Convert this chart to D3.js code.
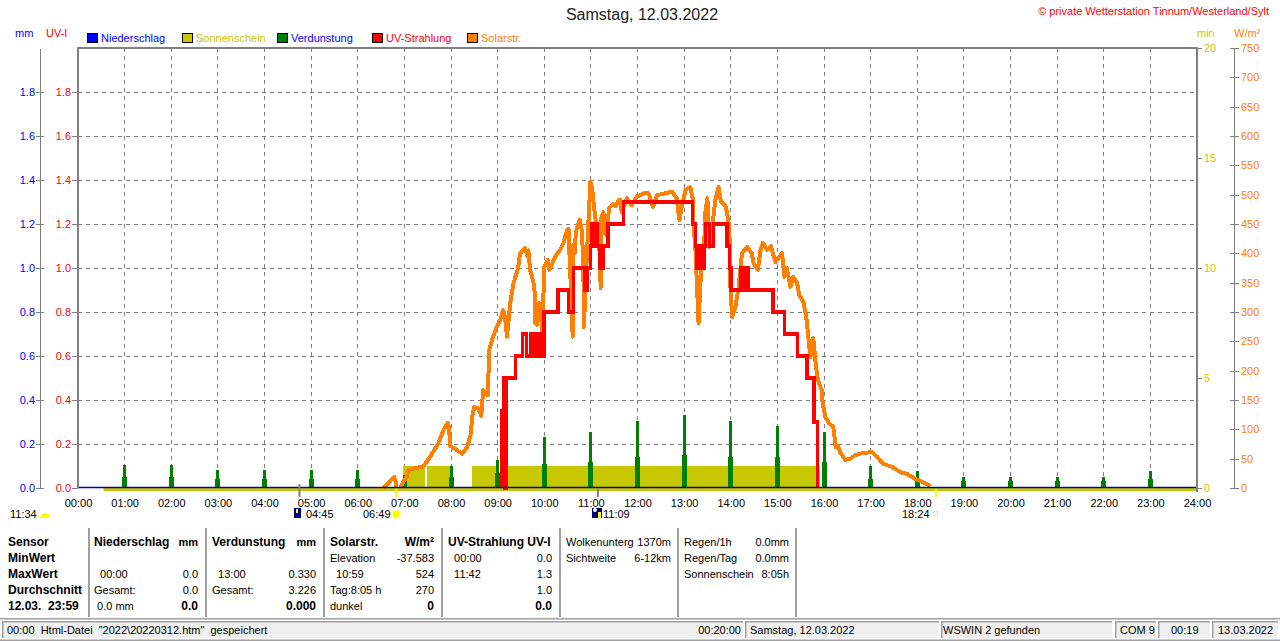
<!DOCTYPE html>
<html><head><meta charset="utf-8">
<script src="https://d3js.org/d3.v7.min.js"></script>
<style>
html,body{margin:0;padding:0;background:#fff;overflow:hidden}
svg{display:block}
text{font-family:"Liberation Sans",Arial,sans-serif;font-size:11px;fill:#000}
</style></head><body><svg id="c" width="1280" height="641"></svg>
<script>
// ---------- data ----------
const titleText = "Samstag, 12.03.2022";
const creditText = "© private Wetterstation Tinnum/Westerland/Sylt";
const legendNames = ["Niederschlag","Sonnenschein","Verdunstung","UV-Strahlung","Solarstr."];
const hourTicks = d3.range(0,25);
const mmTicks = [0,0.2,0.4,0.6,0.8,1.0,1.2,1.4,1.6,1.8];
const minTicks = [0,5,10,15,20];
const wattTicks = d3.range(0,751,50);

const solarTime = [6.55,6.65,6.72,6.78,6.81,6.82,null,6.92,6.97,7.05,7.09,7.2,7.41,7.55,7.73,7.84,7.93,7.96,7.98,8.12,8.24,8.35,8.43,8.45,8.5,8.58,8.65,8.69,8.73,8.79,8.82,8.88,8.98,9.05,9.12,9.16,9.2,9.27,9.34,9.44,9.48,9.59,9.64,9.66,9.7,9.72,9.79,9.8,9.85,9.89,9.93,9.96,10.0,10.08,10.11,10.17,10.24,10.34,10.41,10.49,10.52,10.54,10.57,10.59,10.61,10.62,10.65,10.68,10.76,10.81,10.84,10.85,10.9,10.95,10.99,11.03,11.08,11.13,11.17,11.2,11.21,11.22,11.27,11.31,11.34,11.39,11.47,11.53,11.6,11.63,11.66,11.77,11.87,11.99,12.13,12.24,12.33,12.42,12.74,12.84,12.9,12.95,13.03,13.13,13.18,13.2,13.24,13.31,13.35,13.38,13.42,13.46,13.5,13.54,13.62,13.67,13.74,13.79,13.88,13.92,13.97,13.99,14.03,14.1,14.17,14.24,14.35,14.45,14.49,14.58,14.64,14.69,14.78,14.86,14.96,15.1,15.15,15.2,15.28,15.34,15.42,15.47,15.56,15.62,15.67,15.71,15.74,15.77,15.82,15.87,15.95,15.97,16.03,16.1,16.2,16.25,16.3,16.35,16.46,16.56,16.67,16.85,17.03,17.14,17.27,17.46,17.64,17.78,17.97,18.08,18.28];
const solarWatt = [0,8,14,19,12,0,null,0,10,19,31,33,37,53,76,99,111,104,72,65,58,70,94,121,138,136,123,167,160,158,235,252,275,285,303,290,258,315,349,375,400,409,395,405,370,366,343,281,278,315,305,264,377,389,372,382,395,406,417,440,442,400,343,300,258,414,400,437,457,437,372,274,372,457,522,508,470,440,432,377,341,460,470,432,435,477,484,480,491,491,470,494,482,497,502,502,479,499,505,494,457,480,508,513,495,452,411,281,349,385,395,474,494,411,457,491,513,488,482,470,445,349,291,308,343,400,411,400,383,372,406,418,406,412,385,400,360,375,343,360,350,329,317,291,252,223,252,255,213,184,167,145,121,111,104,70,72,60,48,50,56,60,61,53,41,36,27,24,15,12,3];

const uvTime = [9.09,9.09,9.13,9.16,9.19,9.38,9.53,9.62,9.71,9.8,9.89,9.95,10.0,10.29,10.52,10.63,10.87,10.93,10.99,11.02,11.06,11.09,11.13,11.2,11.26,11.37,11.7,13.18,13.24,13.28,13.31,13.34,13.37,13.4,13.43,13.46,13.54,13.63,13.92,13.97,14.0,14.22,14.25,14.28,14.31,14.34,14.37,14.39,14.9,15.15,15.43,15.64,15.79,15.86];
const uvValue = [0,0.35,0.5,0,0.5,0.6,0.7,0.6,0.7,0.6,0.7,0.6,0.8,0.9,0.8,1.0,0.9,1.0,1.1,1.2,1.1,1.2,1.1,1.0,1.1,1.2,1.3,1.2,1.1,1.0,1.1,1.0,1.1,1.0,1.1,1.2,1.1,1.2,1.1,1.0,0.9,1.0,0.9,1.0,0.9,1.0,0.9,0.9,0.8,0.7,0.6,0.5,0.3,0];

const sunStart = [6.97,7.49,8.45,9.07,9.2];
const sunEnd = [7.44,8.0,9.04,9.14,15.92];
const sunMinutes = [1,1,1,1,1];

const verdHour = d3.range(1,24);
const verdPeak = [0.105,0.105,0.08,0.08,0.08,0.08,0.06,0.1,0.127,0.23,0.255,0.305,0.33,0.305,0.28,0.255,0.1,0.077,0.05,0.05,0.05,0.05,0.077];
const verdBase = [0.05,0.05,0.04,0.04,0.04,0.04,0.03,0.05,0.07,0.11,0.12,0.14,0.15,0.14,0.14,0.12,0.04,0.04,0.03,0.03,0.03,0.03,0.04];

const tableColumns = [
 ["Sensor","MinWert","MaxWert","Durchschnitt","12.03.  23:59"],
 ["Niederschlag","","  00:00","Gesamt:"," 0.0 mm"],
 ["","","0.0","0.0","0.0"],
 ["Verdunstung","","  13:00","Gesamt:",""],
 ["","","0.330","3.226","0.000"],
 ["Solarstr.","Elevation","  10:59","Tag:8:05 h","dunkel"],
 ["W/m²","-37.583","524","270","0"],
 ["UV-Strahlung UV-I","  00:00","  11:42","",""],
 ["","0.0","1.3","1.0","0.0"],
 ["Wolkenunterg","Sichtweite","","",""],
 ["1370m","6-12km","","",""],
 ["Regen/1h","Regen/Tag","Sonnenschein","",""],
 ["0.0mm","0.0mm","8:05h","",""]
];
const tableHeadUnits = ["mm","mm"];
const statusTexts = ['00:00  Html-Datei  "2022\\20220312.htm"  gespeichert',"00:20:00","Samstag, 12.03.2022","WSWIN 2 gefunden","COM 9","00:19","13.03.2022"];
const astroLabels = ["11:34","04:45","06:49","11:09","18:24"];
const astroTimes = [4.75,6.82,11.15,18.4];

// ---------- layout ----------
const svg = d3.select("#c");
const L=78,R=1197,T=48,B=488;
const C = {blue:"#0000ff",olive:"#c8c800",green:"#008000",red:"#ff0000",orange:"#ff8000",grey:"#808080",navy:"#000080"};
const x = d3.scaleLinear().domain([0,24]).range([L,R]);
const yMm = d3.scaleLinear().domain([0,2]).range([B,T]);
const yMin = d3.scaleLinear().domain([0,20]).range([B,T]);
const yW = d3.scaleLinear().domain([0,750]).range([B,T]);
const txt=(s,px,py,o={})=>{
  const t=svg.append("text").attr("x",px).attr("y",py).attr("xml:space","preserve").text(s);
  if(o.a)t.attr("text-anchor",o.a);
  if(o.c)t.style("fill",o.c);
  if(o.s)t.style("font-size",o.s+"px");
  if(o.b)t.style("font-weight","bold");
  return t;
};
txt(titleText,642,20,{a:"middle",s:16,c:"#222"});
txt(creditText,1269,15,{a:"end",c:C.red,s:11});
txt("mm",15,37,{c:C.blue}); txt("UV-I",46,37,{c:C.red});
txt("min",1197,37,{c:C.olive}); txt("W/m²",1234,37,{c:C.orange});

const legX=[87,182,277,372,467];
const legC=[C.blue,C.olive,C.green,C.red,C.orange];
const legT=[C.blue,C.olive,C.blue,C.red,C.orange];
legendNames.forEach((n,i)=>{
  svg.append("rect").attr("x",legX[i]+.5).attr("y",33.5).attr("width",10).attr("height",9).attr("fill",legC[i]).attr("stroke","#000");
  txt(n,legX[i]+14,42,{c:legT[i]});
});

// grid
const grid=svg.append("g").attr("stroke",C.grey).attr("stroke-dasharray","4,4").attr("shape-rendering","crispEdges");
grid.selectAll("line.v").data(hourTicks.slice(1,24)).join("line").attr("x1",d=>x(d)).attr("x2",d=>x(d)).attr("y1",T).attr("y2",B);
grid.selectAll("line.h").data(mmTicks.slice(1)).join("line").attr("x1",L).attr("x2",R).attr("y1",d=>yMm(d)).attr("y2",d=>yMm(d));

// sunshine
svg.append("g").attr("fill",C.olive).attr("shape-rendering","crispEdges").selectAll("rect").data(sunStart).join("rect")
 .attr("x",d=>x(d)).attr("width",(d,i)=>x(sunEnd[i])-x(d)).attr("y",(d,i)=>yMin(sunMinutes[i])).attr("height",(d,i)=>B-yMin(sunMinutes[i]));
svg.append("rect").attr("x",x(0.55)).attr("y",B).attr("width",R-x(0.55)).attr("height",3).attr("fill",C.olive);

// evaporation
const gv=svg.append("g").attr("fill",C.green).attr("shape-rendering","crispEdges");
gv.selectAll("rect.b").data(verdHour).join("rect").attr("x",d=>x(d)-2.5).attr("width",5).attr("y",(d,i)=>yMm(verdBase[i])).attr("height",(d,i)=>B-yMm(verdBase[i]));
gv.selectAll("rect.p").data(verdHour).join("rect").attr("class","p").attr("x",d=>x(d)-1.5).attr("width",3).attr("y",(d,i)=>yMm(verdPeak[i])).attr("height",(d,i)=>B-yMm(verdPeak[i]));

// solar
const solarPts=solarTime.map((t,i)=>[t,solarWatt[i]]);
svg.append("path").attr("d",d3.line().defined(d=>d[0]!==null).x(d=>x(d[0])).y(d=>yW(d[1]))(solarPts))
 .attr("fill","none").attr("stroke",C.orange).attr("stroke-width",4).attr("stroke-linejoin","round").attr("shape-rendering","crispEdges");

// UV
const uvPts=uvTime.map((t,i)=>[t,uvValue[i]]);
svg.append("path").attr("d",d3.line().curve(d3.curveStepAfter).x(d=>x(d[0])).y(d=>yMm(d[1]))(uvPts))
 .attr("fill","none").attr("stroke",C.red).attr("stroke-width",3.6).attr("shape-rendering","crispEdges");

// precipitation baseline
svg.append("line").attr("x1",L).attr("x2",R).attr("y1",B-.5).attr("y2",B-.5).attr("stroke","#0000c0").attr("stroke-width",1.5);

// frame
const fr=svg.append("g").attr("shape-rendering","crispEdges").attr("fill",C.grey);
fr.append("rect").attr("x",L-1).attr("y",T-1).attr("width",R-L+2).attr("height",2);
fr.append("rect").attr("x",L-1).attr("y",T-1).attr("width",2).attr("height",B-T+1);
fr.append("rect").attr("x",R-1).attr("y",T-1).attr("width",2).attr("height",B-T+5);

// axes
function styleAxis(g,col,lo,hi,tx,anchor){
  g.select(".domain").attr("stroke",C.grey).attr("shape-rendering","crispEdges");
  g.selectAll(".tick line").attr("stroke",C.grey).attr("x1",lo).attr("x2",hi).attr("shape-rendering","crispEdges");
  g.selectAll(".tick text").style("fill",col).style("font-size","11px").attr("font-family",null).attr("x",tx).attr("text-anchor",anchor);
}
const mmAx=svg.append("g").attr("transform","translate(40,0)").call(d3.axisLeft(yMm).tickValues(mmTicks).tickFormat(d3.format(".1f")).tickSizeOuter(0));
styleAxis(mmAx,C.blue,-4,4,-5,"end");
const uvAx=svg.append("g").attr("transform",`translate(${L},0)`).call(d3.axisLeft(yMm).tickValues(mmTicks).tickFormat(d3.format(".1f")).tickSizeOuter(0));
styleAxis(uvAx,C.red,-6,0,-7,"end"); uvAx.select(".domain").remove();
const minAx=svg.append("g").attr("transform",`translate(${R},0)`).call(d3.axisRight(yMin).tickValues(minTicks).tickSizeOuter(0));
styleAxis(minAx,C.olive,0,5,7,"start"); minAx.select(".domain").remove();
const wAx=svg.append("g").attr("transform","translate(1234,0)").call(d3.axisRight(yW).tickValues(wattTicks).tickSizeOuter(0));
styleAxis(wAx,C.orange,-4,5,7,"start");
const xAx=svg.append("g").attr("transform",`translate(0,${B})`).call(d3.axisBottom(x).tickValues(hourTicks).tickSize(0).tickFormat(d=>String(d).padStart(2,"0")+":00"));
xAx.select(".domain").remove();
xAx.selectAll("text").attr("y",11).style("font-size","11px").style("fill","#000").attr("font-family",null);

// astro markers
const mk=svg.append("g");
mk.append("rect").attr("x",x(astroTimes[0])-1).attr("y",484).attr("width",2).attr("height",13).attr("fill",C.grey);
mk.append("rect").attr("x",x(astroTimes[2])-1).attr("y",489).attr("width",2).attr("height",8).attr("fill",C.grey);
mk.append("rect").attr("x",x(astroTimes[1])-1).attr("y",489).attr("width",2).attr("height",8).attr("fill","#ffff00");
mk.append("rect").attr("x",x(astroTimes[3])-1).attr("y",489).attr("width",2).attr("height",8).attr("fill","#ffff00");
txt(astroLabels[0],10,518);
mk.append("path").attr("d","M40 518 a5 5 0 0 1 10 0 z").attr("fill","#ffff00");
mk.append("rect").attr("x",294).attr("y",508).attr("width",7).attr("height",10).attr("fill",C.navy);
mk.append("rect").attr("x",296).attr("y",509).attr("width",2).attr("height",4).attr("fill","#ffff00");
txt(astroLabels[1],306,518);
txt(astroLabels[2],363,518);
mk.append("circle").attr("cx",396).attr("cy",514).attr("r",5.5).attr("fill","#ffffc0");
mk.append("circle").attr("cx",396).attr("cy",514).attr("r",3.5).attr("fill","#ffff00");
mk.append("rect").attr("x",592).attr("y",508).attr("width",10).attr("height",10).attr("fill",C.navy);
mk.append("circle").attr("cx",595).attr("cy",510).attr("r",2).attr("fill","#fff");
mk.append("rect").attr("x",598).attr("y",512).attr("width",3).attr("height",6).attr("fill","#ffff00");
txt(astroLabels[3],603,518);
txt(astroLabels[4],902,518);
mk.append("rect").attr("x",933.5).attr("y",511.5).attr("width",4).attr("height",4).attr("fill","#fff").attr("stroke","#ffff00");

// table
const sepX=[88,205,323,441,559,677,795];
svg.append("g").attr("fill","#a0a0a0").attr("shape-rendering","crispEdges").selectAll("rect").data(sepX).join("rect").attr("x",d=>d).attr("y",528).attr("width",1.5).attr("height",89);
const rowY=[546,562,578,594,610];
const colX=[8,94,198,212,316,330,434,448,552,566,671,684,789];
const colEnd=[0,0,1,0,1,0,1,0,1,0,1,0,1];
tableColumns.forEach((col,c)=>col.forEach((s,r)=>{
  if(!s)return;
  let bold = r===0 && c<9 || c===0 || (r===4 && [2,4,6,8].includes(c));
  if(c>=9)bold=false;
  const t=txt(s,colX[c],rowY[r],{a:colEnd[c]?"end":null,b:bold});
  if(bold) t.style("font-size","12px");
}));
txt(tableHeadUnits[0],198,546,{a:"end",b:true});
txt(tableHeadUnits[1],316,546,{a:"end",b:true});

// status bar
svg.append("rect").attr("x",0).attr("y",618).attr("width",1280).attr("height",1.5).attr("fill","#a0a0a0");
svg.append("rect").attr("x",0).attr("y",639.5).attr("width",1280).attr("height",1.5).attr("fill","#a0a0a0");
const segS=[2,745,941,1115,1158,1212], segE=[743,939,1112,1156,1210,1278];
segS.forEach((s,i)=>{
  svg.append("rect").attr("x",s).attr("y",621).attr("width",segE[i]-s).attr("height",17).attr("fill","#f0f0f0");
  svg.append("rect").attr("x",s).attr("y",621).attr("width",segE[i]-s).attr("height",1.5).attr("fill","#a0a0a0");
  svg.append("rect").attr("x",s).attr("y",621).attr("width",1.5).attr("height",17).attr("fill","#a0a0a0");
});
const stY=634;
txt(statusTexts[0],7,stY);
txt(statusTexts[1],741,stY,{a:"end"});
txt(statusTexts[2],750,stY);
txt(statusTexts[3],943,stY);
txt(statusTexts[4],1120,stY);
txt(statusTexts[5],1171,stY);
txt(statusTexts[6],1218,stY);
</script></body></html>
